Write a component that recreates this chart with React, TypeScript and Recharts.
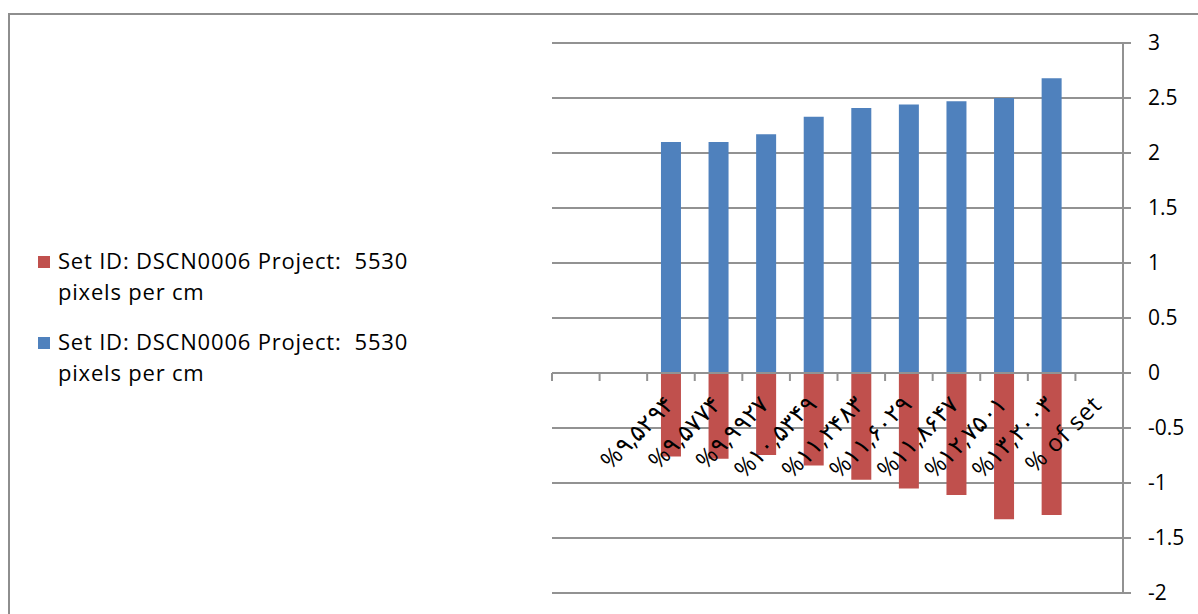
import React from 'react';
import { BarChart, Bar, XAxis, YAxis, CartesianGrid, Legend, ReferenceLine } from 'recharts';

const categories = [
  '',
  '',
  '%۹,۵۲۹۴',
  '%۹,۵۷۷۴',
  '%۹,۹۹۲۷',
  '%۱۰,۵۳۴۹',
  '%۱۱,۲۴۸۳',
  '%۱۱,۶۰۲۹',
  '%۱۱,۸۶۴۷',
  '%۱۲,۷۵۰۱',
  '%۱۳,۲۰۰۳',
  '% of set',
];
const blueValues = [null, null, 2.1, 2.1, 2.17, 2.33, 2.41, 2.44, 2.47, 2.5, 2.68, null];
const redValues = [null, null, -0.76, -0.78, -0.745, -0.84, -0.97, -1.05, -1.11, -1.33, -1.29, null];
const yTicks = [-2, -1.5, -1, -0.5, 0, 0.5, 1, 1.5, 2, 2.5, 3];
const seriesName = 'Set ID: DSCN0006 Project:  5530 pixels per cm';

const data = categories.map((name, i) => ({ name, red: redValues[i], blue: blueValues[i] }));

const W = 1198;
const H = 614;
const margin = { top: 43, left: 552, right: 5, bottom: 20 };
const Y_AXIS_W = 70;
const X_AXIS_H = 1;
const plotW = W - margin.left - margin.right - Y_AXIS_W;
const plotH = H - margin.top - margin.bottom - X_AXIS_H;
const yMin = -2;
const yMax = 3;
const zeroY = margin.top + (plotH * yMax) / (yMax - yMin);
const half = plotW / categories.length / 2;

const FONT = '"Open Sans", sans-serif';
const GRID = '#929292';

function CatTick(props: any) {
  const { x, payload } = props;
  const i = payload.index;
  return (
    <g>
      <line x1={x - half} x2={x - half} y1={zeroY} y2={zeroY + 8} stroke={GRID} strokeWidth={2} />
      {i === categories.length - 1 && (
        <line x1={x + half} x2={x + half} y1={zeroY} y2={zeroY + 8} stroke={GRID} strokeWidth={2} />
      )}
      {payload.value && (
        <text
          transform={`translate(${x + 4},${zeroY + 33}) rotate(-45)`}
          textAnchor="end"
          fontSize={24}
          letterSpacing={1}
          fontFamily={FONT}
          fill="#000"
        >
          {payload.value}
        </text>
      )}
    </g>
  );
}

function LegendBox(props: any) {
  const items = props.payload || [];
  return (
    <div style={{ width: 440, fontFamily: FONT, fontSize: 22, letterSpacing: 0.8, color: '#000', lineHeight: '31px' }}>
      {items.map((item: any, i: number) => (
        <div key={i} style={{ display: 'flex', alignItems: 'flex-start', marginBottom: 19 }}>
          <div style={{ width: 12, height: 12, background: item.color, marginTop: 11, marginRight: 8, flex: 'none' }} />
          <div style={{ width: 380, flex: 'none', whiteSpace: 'pre-wrap' }}>{item.value}</div>
        </div>
      ))}
    </div>
  );
}

export default function App() {
  return (
    <div style={{ position: 'absolute', left: 0, top: 0, width: W, height: H, overflow: 'hidden', background: '#fff' }}>
      <div
        style={{
          position: 'absolute',
          left: 8,
          top: 13,
          width: W,
          height: H,
          borderLeft: '2px solid #8e8e8e',
          borderTop: '2px solid #8e8e8e',
        }}
      />
      <div style={{ position: 'absolute', left: 0, top: 0 }}>
        <BarChart width={W} height={H} data={data} margin={margin} stackOffset="sign" barCategoryGap="29%">
          <CartesianGrid vertical={false} stroke={GRID} strokeWidth={2} />
          <XAxis
            dataKey="name"
            height={X_AXIS_H}
            axisLine={false}
            tickLine={false}
            interval={0}
            tick={<CatTick />}
          />
          <YAxis
            orientation="right"
            width={Y_AXIS_W}
            domain={[yMin, yMax]}
            ticks={yTicks}
            interval={0}
            tickSize={8}
            tickMargin={17}
            axisLine={{ stroke: GRID, strokeWidth: 2 }}
            tickLine={{ stroke: GRID, strokeWidth: 2 }}
            tick={{ fill: '#000', fontSize: 21, fontFamily: FONT }}
          />
          <Legend
            content={<LegendBox />}
            wrapperStyle={{ left: 38, top: 245, width: 0, height: 0, overflow: 'visible' }}
          />
          <Bar dataKey="red" name={seriesName} stackId="s" fill="#C0504D" isAnimationActive={false} />
          <Bar dataKey="blue" name={seriesName} stackId="s" fill="#4F81BD" isAnimationActive={false} />
          <ReferenceLine y={0} stroke={GRID} strokeWidth={2} />
        </BarChart>
      </div>
    </div>
  );
}
